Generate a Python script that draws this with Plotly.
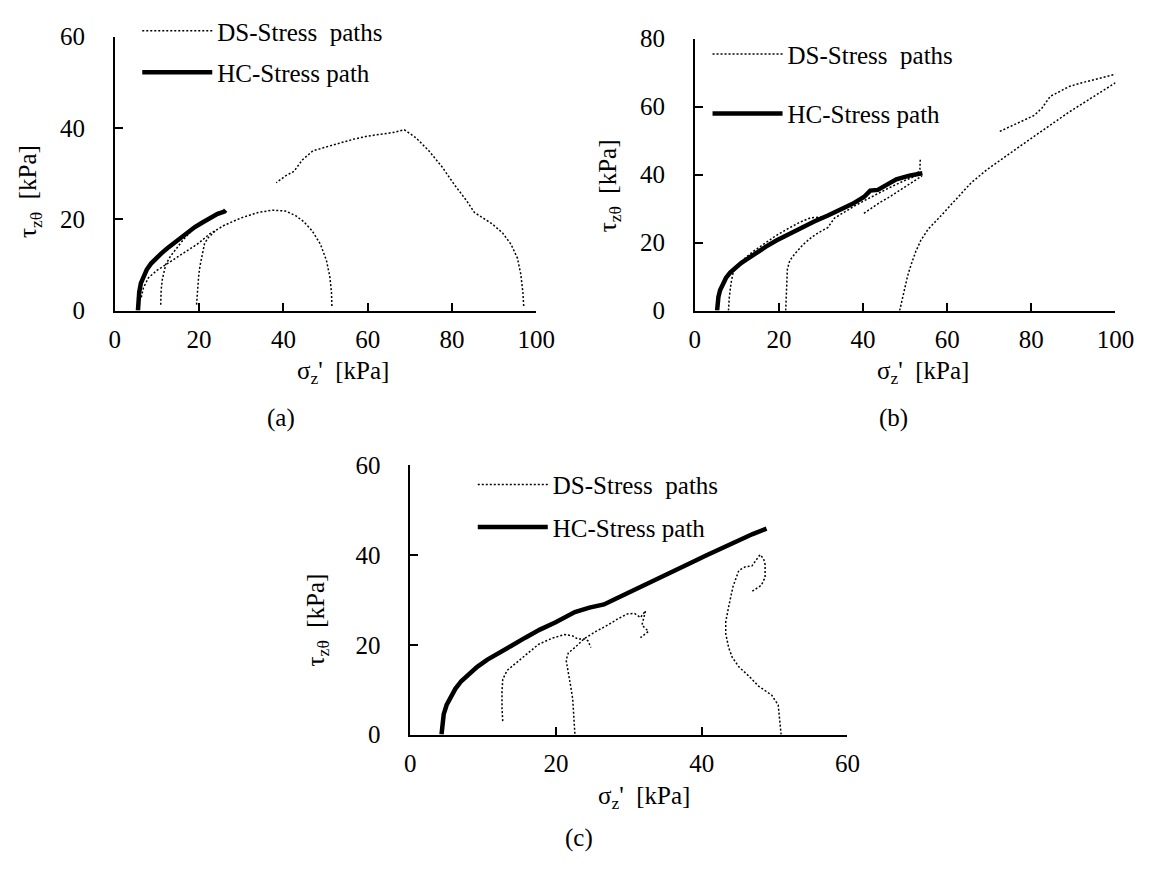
import plotly.graph_objects as go

# ---------------- Panel (a) ----------------
hc_a_x = [5.5, 5.6, 5.8, 6.2, 6.8, 7.6, 8.6, 9.8, 11.0, 12.4, 14.0, 15.6, 17.3, 19.0, 20.8, 22.6, 24.4, 26.0, 26.3]
hc_a_y = [0, 2.0, 4.0, 6.0, 7.6, 9.0, 10.3, 11.5, 12.5, 13.6, 14.8, 15.9, 17.1, 18.3, 19.3, 20.3, 21.2, 21.7, 22.0]

ds_a11_x = [10.9, 11.0, 11.3, 11.7, 12.1, 13.2, 14.5, 15.8, 17.1, 18.0]
ds_a11_y = [1.3, 4.5, 6.9, 8.8, 10.1, 11.9, 13.5, 15.0, 16.4, 17.2]
ds_a20_x = [19.4, 19.6, 19.9, 20.2, 20.7, 21.3, 22.2, 23.3, 24.0]
ds_a20_y = [1.3, 5.0, 7.5, 9.7, 12.3, 14.7, 16.0, 17.1, 17.6]
ds_a51_x = [51.5, 51.4, 51.0, 50.2, 48.8, 46.8, 44.8, 42.9, 40.5, 37.5, 34.0, 30.0, 26.0,
            22.5, 19.8, 17.0, 14.5, 12.0, 10.0, 8.0, 6.8, 6.2]
ds_a51_y = [1.0, 4.0, 7.5, 11.0, 14.5, 17.5, 19.5, 20.8, 21.8, 22.0, 21.5, 20.3, 18.7,
            16.8, 14.7, 13.0, 11.5, 10.0, 8.8, 7.2, 5.0, 2.5]
ds_a96_x = [97.0, 96.8, 96.3, 95.5, 94.0, 92.0, 89.5, 87.0, 85.3, 83.5, 80.7, 77.6, 74.5,
            71.5, 68.7, 66.0, 62.5, 59.9, 56.5, 53.0, 50.0, 47.0, 44.5, 42.5, 40.5, 38.3]
ds_a96_y = [1.0, 4.0, 8.0, 11.5, 14.5, 17.0, 19.0, 20.5, 21.5, 24.0, 27.4, 31.5, 35.0,
            37.8, 39.6, 39.0, 38.6, 38.2, 37.5, 36.5, 35.8, 35.0, 33.0, 30.5, 29.5, 28.0]

# ---------------- Panel (b) ----------------
hc_b_x = [5.3, 5.4, 5.6, 6.0, 6.6, 7.4, 8.4, 9.6, 11.0, 12.5, 14.6, 16.9, 19.5, 22.3, 25.3,
          28.5, 31.5, 34.7, 37.5, 40.2, 41.7, 43.5, 45.5, 47.9, 51.0, 54.1]
hc_b_y = [0, 2.0, 4.0, 6.0, 7.8, 9.6, 11.2, 12.6, 14.0, 15.2, 17.0, 18.8, 20.7, 22.5, 24.4,
          26.3, 27.9, 29.6, 31.4, 33.4, 35.3, 35.5, 37.0, 38.6, 39.7, 40.4]

ds_b8_x = [8.0, 8.2, 8.6, 9.1, 10.3, 12.0, 14.0, 16.5, 19.0, 22.0, 25.0, 27.5, 30.0]
ds_b8_y = [0, 4.0, 8.0, 11.2, 13.5, 15.5, 17.5, 19.7, 21.8, 24.0, 26.0, 27.3, 27.5]
ds_b22_x = [21.6, 21.7, 21.8, 22.0, 22.6, 23.9, 25.8, 27.8, 29.5, 31.6, 33.2, 35.5, 38.0,
            41.0, 44.0, 47.0, 50.0, 52.5, 53.5, 53.6]
ds_b22_y = [0, 3.5, 8.0, 12.2, 14.8, 16.9, 19.5, 21.6, 23.0, 24.4, 27.2, 29.0, 30.8,
            32.8, 34.8, 36.6, 38.3, 39.6, 41.5, 44.5]
ds_b40_x = [40.2, 42.0, 44.0, 46.0, 48.0, 50.0, 52.0, 54.0]
ds_b40_y = [28.6, 30.2, 31.8, 33.2, 34.8, 36.2, 37.8, 39.6]
ds_b48_x = [48.7, 49.3, 50.0, 50.6, 51.5, 52.5, 53.7, 55.5, 58.0, 61.5, 65.7, 69.5, 73.5,
            77.5, 81.2, 85.0, 89.0, 94.0, 99.1, 100.0]
ds_b48_y = [0, 3.5, 7.0, 10.3, 13.8, 17.3, 20.6, 24.0, 27.2, 32.0, 37.6, 41.5, 45.1,
            48.5, 51.7, 55.0, 58.4, 62.3, 66.3, 67.0]
ds_b72_x = [72.5, 75.0, 78.0, 80.7, 82.5, 84.5, 87.0, 89.0, 92.0, 95.5, 100.0]
ds_b72_y = [52.7, 54.2, 55.8, 57.4, 59.5, 63.0, 64.6, 65.9, 67.0, 68.0, 69.5]

# ---------------- Panel (c) ----------------
hc_c_x = [4.3, 4.4, 4.6, 5.0, 5.5, 6.2, 7.0, 8.0, 9.2, 10.6, 12.2, 13.9, 15.8, 17.8, 19.9,
          21.3, 22.6, 24.6, 26.6, 28.0, 29.5, 31.6, 33.8, 36.1, 38.4, 40.6, 42.8, 45.1, 47.0, 48.9]
hc_c_y = [0, 2.3, 4.5, 6.6, 8.3, 10.2, 11.9, 13.5, 15.1, 16.7, 18.3, 19.8, 21.6, 23.4, 25.0,
          26.2, 27.3, 28.3, 29.0, 30.1, 31.3, 33.0, 34.7, 36.4, 38.2, 39.9, 41.6, 43.4, 44.7, 45.9]

ds_c12_x = [12.7, 12.6, 12.6, 12.7, 13.3, 14.5, 16.0, 17.6, 19.5, 21.2, 22.3, 23.0, 24.0, 24.4, 24.8]
ds_c12_y = [3.0, 6.0, 9.5, 12.3, 14.3, 15.9, 18.0, 20.1, 21.5, 22.3, 22.0, 21.3, 21.3, 20.9, 19.4]
ds_c22_x = [22.6, 22.5, 22.3, 22.0, 21.7, 21.4, 21.7, 22.6, 23.9, 25.5, 27.1, 28.5, 29.8,
            30.8, 31.6, 32.3, 31.8, 32.7, 31.6]
ds_c22_y = [0.2, 4.0, 8.0, 11.0, 13.7, 16.6, 18.2, 19.4, 21.4, 23.0, 24.4, 25.8, 26.9,
            27.0, 26.1, 27.6, 24.4, 23.0, 21.6]
ds_c50_x = [50.9, 50.7, 50.5, 49.6, 47.8, 46.5, 45.1, 44.2, 43.7, 43.3, 43.3, 43.7, 44.3,
            45.1, 46.0, 46.9, 48.0, 48.5, 48.7, 48.7, 48.2, 46.9]
ds_c50_y = [0, 3.5, 6.6, 8.8, 10.8, 13.0, 15.1, 17.2, 19.4, 22.5, 25.1, 28.5, 33.0,
            36.6, 37.4, 37.6, 40.1, 39.2, 37.9, 35.1, 33.3, 31.9]

panel_labels = ["(a)", "(b)", "(c)"]
x_title = "σ<sub>z</sub>'  [kPa]"
y_title = "τ<sub>zθ</sub>  [kPa]"
ds_name = "DS-Stress  paths"
hc_name = "HC-Stress path"

FONT = "Times New Roman, Liberation Serif, Tinos, Nimbus Roman, DejaVu Serif, serif"
OFF = 8  # page body margin
W, H = 1163 - 2 * OFF, 871 - 2 * OFF


def px_x(p):
    return (p - OFF) / W


def px_y(p):
    return 1 - (p - OFF) / H


def join(*segs):
    xs, ys = [], []
    for sx, sy in segs:
        if xs:
            xs.append(None)
            ys.append(None)
        xs.extend(sx)
        ys.extend(sy)
    return xs, ys


fig = go.Figure()

panels = [
    ("x", "y", "legend", [(ds_a11_x, ds_a11_y), (ds_a20_x, ds_a20_y), (ds_a51_x, ds_a51_y), (ds_a96_x, ds_a96_y)], (hc_a_x, hc_a_y)),
    ("x2", "y2", "legend2", [(ds_b8_x, ds_b8_y), (ds_b22_x, ds_b22_y), (ds_b40_x, ds_b40_y), (ds_b48_x, ds_b48_y), (ds_b72_x, ds_b72_y)], (hc_b_x, hc_b_y)),
    ("x3", "y3", "legend3", [(ds_c12_x, ds_c12_y), (ds_c22_x, ds_c22_y), (ds_c50_x, ds_c50_y)], (hc_c_x, hc_c_y)),
]

for xa, ya, lg, ds_segs, hc in panels:
    dx, dy = join(*ds_segs)
    fig.add_trace(go.Scatter(x=dx, y=dy, mode="lines", name=ds_name, xaxis=xa, yaxis=ya,
                             legend=lg, legendgroup="ds" + xa,
                             line=dict(color="black", width=1.5, dash="2px,2px")))
    fig.add_trace(go.Scatter(x=hc[0], y=hc[1], mode="lines", name=hc_name, xaxis=xa, yaxis=ya,
                             legend=lg, legendgroup="hc" + xa,
                             line=dict(color="black", width=4.5)))

tick_font = dict(family=FONT, size=25, color="black")
axis_common = dict(showline=True, linecolor="black", linewidth=1.5, ticks="inside",
                   ticklen=8, tickwidth=1.5, tickcolor="black", showgrid=False,
                   zeroline=False, tickfont=tick_font, mirror=False)
xcommon = dict(axis_common, ticklabelstandoff=6)
ycommon = dict(axis_common, ticklabelstandoff=23)

leg_common = dict(xanchor="left", yanchor="middle", bgcolor="rgba(0,0,0,0)",
                  font=dict(family=FONT, size=25, color="black"), itemwidth=70)


def title_ann(text, x, y, angle=0):
    return dict(text=text, x=px_x(x), y=px_y(y), xref="paper", yref="paper",
                showarrow=False, textangle=angle, xanchor="center", yanchor="middle",
                font=dict(family=FONT, size=25, color="black"))


fig.update_layout(
    width=W, height=H,
    margin=dict(l=0, r=0, t=0, b=0),
    paper_bgcolor="white", plot_bgcolor="white",
    font=dict(family=FONT, color="black"),
    showlegend=True,
    xaxis=dict(domain=[px_x(111), px_x(542)], range=[0, 100], dtick=20, anchor="y", **xcommon),
    yaxis=dict(domain=[px_y(303), px_y(18)], range=[0, 60], dtick=20, anchor="x", **ycommon),
    xaxis2=dict(domain=[px_x(704), px_x(1134)], range=[0, 100], dtick=20, anchor="y2", **xcommon),
    yaxis2=dict(domain=[px_y(303), px_y(20)], range=[0, 80], dtick=20, anchor="x2", **ycommon),
    xaxis3=dict(domain=[px_x(413), px_x(860)], range=[0, 60], dtick=20, anchor="y3", **xcommon),
    yaxis3=dict(domain=[px_y(744), px_y(464)], range=[0, 60], dtick=20, anchor="x3", **ycommon),
    legend=dict(x=px_x(134), y=px_y(33), tracegroupgap=6, **leg_common),
    legend2=dict(x=px_x(717), y=px_y(67), tracegroupgap=24, **leg_common),
    legend3=dict(x=px_x(477), y=px_y(506), tracegroupgap=7, **leg_common),
    annotations=[
        title_ann(x_title, 344, 367),
        title_ann(x_title, 937, 367),
        title_ann(x_title, 652, 809),
        title_ann(y_title, 24, 179, -90),
        title_ann(y_title, 617, 173, -90),
        title_ann(y_title, 318, 625, -90),
        title_ann(panel_labels[0], 281, 415),
        title_ann(panel_labels[1], 907, 415),
        title_ann(panel_labels[2], 586, 852),
    ],
)

fig.write_html("out.html")
